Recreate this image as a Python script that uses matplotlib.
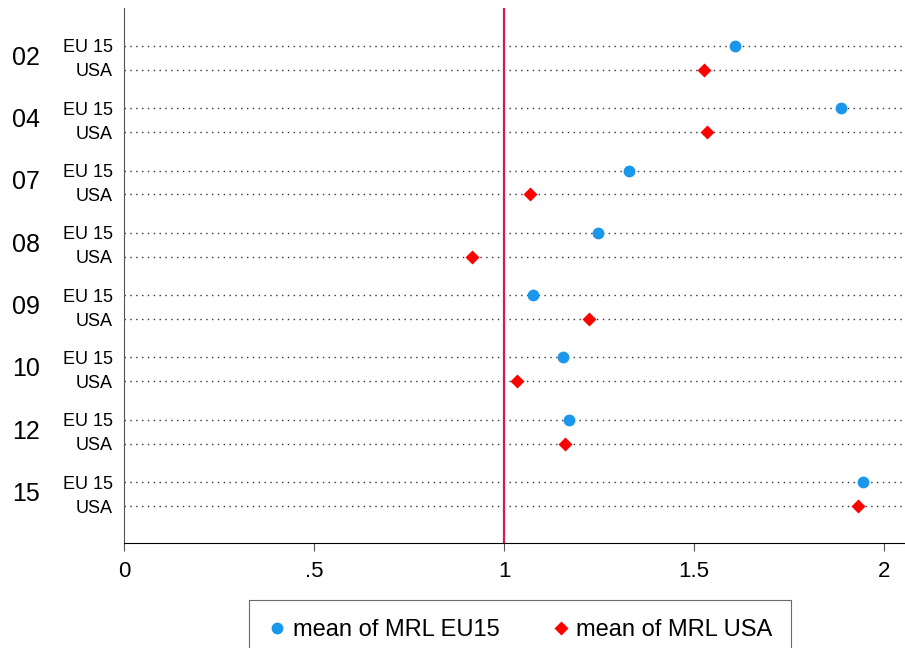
import matplotlib
matplotlib.use("Agg")
import matplotlib.pyplot as plt
import matplotlib.transforms as mtransforms

plt.rcParams['font.family'] = ['Liberation Sans', 'DejaVu Sans']

# dados
anos = ['02', '04', '07', '08', '09', '10', '12', '15']
mrl_eu15 = [1.608, 1.887, 1.329, 1.247, 1.076, 1.155, 1.171, 1.945]
mrl_usa = [1.526, 1.534, 1.068, 0.916, 1.224, 1.034, 1.161, 1.932]
rotulos = ['EU 15', 'USA']

passo = 2.6
y_eu = [i * passo for i in range(len(anos))]
y_usa = [y + 1 for y in y_eu]

fig = plt.figure(figsize=(9.05, 6.48), dpi=100)
ax = fig.add_axes([124 / 905, 1 - 543 / 648, 1 - 124 / 905, (543 - 8) / 648])

# linhas pontilhadas de cada linha
for y in y_eu + y_usa:
    ax.axhline(y, color='#333333', lw=1.0, ls=(0, (1, 3.2)), zorder=1)

# linha de referencia em 1
ax.axvline(1, color='#d6185a', lw=1.6, zorder=2)

ax.plot(mrl_eu15, y_eu, 'o', color='#1a96ea', ms=8.5, mec='none', zorder=3, label='mean of MRL EU15')
ax.plot(mrl_usa, y_usa, 'D', color='#ff0000', ms=7.5, mec='none', zorder=3, label='mean of MRL USA')

ax.set_xlim(0, (905 - 124) / 380)
ax.set_ylim(y_usa[-1] + 1.54, -1.58)

ax.set_xticks([0, 0.5, 1, 1.5, 2])
ax.set_xticklabels(['0', '.5', '1', '1.5', '2'], fontsize=16)
ax.tick_params(axis='x', length=6, width=0.8, pad=7, color='#555555')

ticks_y = []
labels_y = []
for a, b in zip(y_eu, y_usa):
    ticks_y += [a, b]
    labels_y += rotulos
ax.set_yticks(ticks_y)
ax.set_yticklabels(labels_y, fontsize=13)
ax.tick_params(axis='y', length=0, pad=8)

# rotulos dos anos
trans = mtransforms.blended_transform_factory(fig.transFigure, ax.transData)
for ano, a, b in zip(anos, y_eu, y_usa):
    fig.text(26 / 905, (a + b) / 2, ano, transform=trans, fontsize=18, ha='center', va='center')

for s in ['top', 'right']:
    ax.spines[s].set_visible(False)
ax.spines['left'].set_color('#555555')
ax.spines['bottom'].set_color('black')

leg = fig.legend(loc='upper center', bbox_to_anchor=(520 / 905, 1 - 600 / 648), ncol=2,
                 fontsize=17, frameon=True, fancybox=False, edgecolor='#444444',
                 handletextpad=0.25, columnspacing=2.2, borderpad=0.8, handlelength=0.8,
                 borderaxespad=0)
leg.get_frame().set_linewidth(0.8)

plt.savefig('out.png', dpi=100)
